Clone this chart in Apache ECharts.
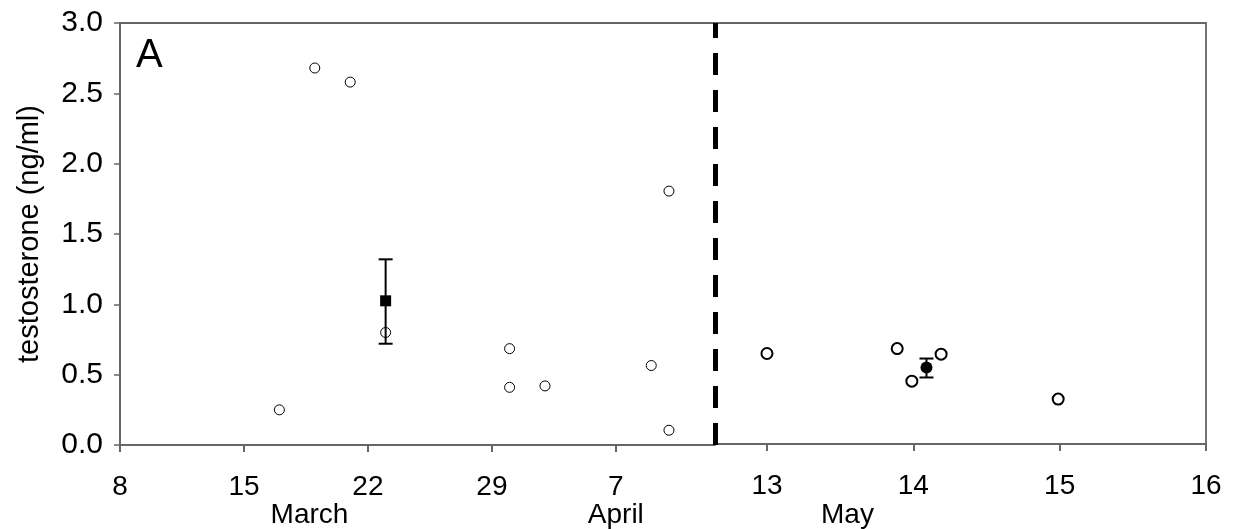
<!DOCTYPE html>
<html>
<head>
<meta charset="utf-8">
<script src="https://cdn.jsdelivr.net/npm/echarts@6/dist/echarts.min.js"></script>
<style>
  html, body { margin: 0; padding: 0; background: #fff; }
  #chart { width: 1235px; height: 529px; }
</style>
</head>
<body>
<div id="chart"></div>
<script>
// ---------- data ----------
// March/April panel: x in day numbers counted from 1 March (tick "7" is the week after 29)
const marAprTickValues = [8, 15, 22, 29, 36];
const marAprTickLabels = ['8', '15', '22', '29', '7'];
const marAprMonthPos = [18.7, 36];
const marAprMonthNames = ['March', 'April'];
const marAprDays   = [17, 19, 21, 23, 30, 30, 32, 38, 39, 39];
const marAprValues = [0.25, 2.68, 2.58, 0.80, 0.685, 0.41, 0.42, 0.565, 1.805, 0.105];
// mean with error bar: [day, mean, low, high]
const marAprMean = [[23, 1.025, 0.72, 1.32]];
const breakDay = 41.6;          // dashed separator (end of Mar/Apr axis)

// May panel: x in days of May
const mayAxisMin = 12.645;
const mayTickValues = [13, 14, 15, 16];
const mayTickLabels = ['13', '14', '15', '16'];
const mayMonthPos = [13.55];
const mayMonthNames = ['May'];
const mayDays   = [13.0, 13.89, 13.99, 14.19, 14.99];
const mayValues = [0.645, 0.68, 0.448, 0.64, 0.32];
const mayMean = [[14.09, 0.545, 0.474, 0.609]];

// ---------- chart ----------
const FONT = 'Liberation Sans, Arial, sans-serif';
const AXIS_COLOR = '#666';
const chart = echarts.init(document.getElementById('chart'), null, { renderer: 'canvas' });

function errorBar(params, api) {
  const x = api.value(0), lo = api.value(2), hi = api.value(3);
  const pLo = api.coord([x, lo]);
  const pHi = api.coord([x, hi]);
  const half = 7;
  const st = { stroke: '#000', lineWidth: 2 };
  return {
    type: 'group',
    children: [
      { type: 'line', shape: { x1: pLo[0], y1: pLo[1], x2: pHi[0], y2: pHi[1] }, style: st },
      { type: 'line', shape: { x1: pHi[0] - half, y1: pHi[1], x2: pHi[0] + half, y2: pHi[1] }, style: st },
      { type: 'line', shape: { x1: pLo[0] - half, y1: pLo[1], x2: pLo[0] + half, y2: pLo[1] }, style: st }
    ]
  };
}

const xLabelStyle = { color: '#000', fontFamily: FONT, fontSize: 28 };
const yLabelStyle = { color: '#000', fontFamily: FONT, fontSize: 30 };

function mainX(gridIndex, min, max, values, labels) {
  return {
    type: 'value', gridIndex, min, max, position: 'bottom',
    axisLine: { show: true, lineStyle: { color: AXIS_COLOR, width: 2 } },
    axisTick: { show: true, inside: false, length: 7, customValues: values, lineStyle: { color: AXIS_COLOR, width: 2 } },
    axisLabel: Object.assign({ show: true, margin: 28, customValues: values,
      formatter: v => labels[values.indexOf(v)] ?? '' }, xLabelStyle),
    splitLine: { show: false }
  };
}
function topX(gridIndex, min, max) {
  return {
    type: 'value', gridIndex, min, max, position: 'top',
    axisLine: { show: true, lineStyle: { color: AXIS_COLOR, width: 2 } },
    axisTick: { show: false }, axisLabel: { show: false }, splitLine: { show: false }
  };
}
function monthX(gridIndex, min, max, pos, names, margin) {
  return {
    type: 'value', gridIndex, min, max, position: 'bottom',
    axisLine: { show: false }, axisTick: { show: false }, splitLine: { show: false },
    axisLabel: Object.assign({ show: true, margin: margin, customValues: pos,
      formatter: v => names[pos.indexOf(v)] ?? '' }, xLabelStyle)
  };
}

const option = {
  animation: false,
  backgroundColor: '#fff',
  grid: [
    { left: 120, top: 23, width: 595, height: 422, containLabel: false },
    { left: 715, top: 23, width: 491, height: 422, containLabel: false }
  ],
  xAxis: [
    mainX(0, 8, breakDay, marAprTickValues, marAprTickLabels),
    topX(0, 8, breakDay),
    monthX(0, 8, breakDay, marAprMonthPos, marAprMonthNames, 56),
    mainX(1, mayAxisMin, 16, mayTickValues, mayTickLabels),
    topX(1, mayAxisMin, 16),
    monthX(1, mayAxisMin, 16, mayMonthPos, mayMonthNames, 57)
  ],
  yAxis: [
    {
      type: 'value', gridIndex: 0, min: 0, max: 3, interval: 0.5, position: 'left',
      name: 'testosterone (ng/ml)', nameLocation: 'middle', nameGap: 76, nameRotate: 90,
      nameTextStyle: { color: '#000', fontFamily: FONT, fontSize: 29 },
      axisLine: { show: true, lineStyle: { color: AXIS_COLOR, width: 2 } },
      axisTick: { show: true, inside: false, length: 6, lineStyle: { color: AXIS_COLOR, width: 1.5 } },
      axisLabel: Object.assign({ margin: 17, formatter: v => v.toFixed(1) }, yLabelStyle),
      splitLine: { show: false }
    },
    {
      type: 'value', gridIndex: 1, min: 0, max: 3, interval: 0.5, position: 'right',
      axisLine: { show: true, lineStyle: { color: '#444', width: 1.5 } },
      axisTick: { show: false }, axisLabel: { show: false }, splitLine: { show: false }
    }
  ],
  graphic: [
    { type: 'text', x: 136, y: 56,
      style: { text: 'A', font: '40px ' + FONT, fill: '#000', textAlign: 'left', textVerticalAlign: 'middle' } }
  ],
  series: [
    {
      type: 'scatter', xAxisIndex: 0, yAxisIndex: 0, clip: false, z: 2,
      data: marAprDays.map((d, i) => [d, marAprValues[i]]),
      symbol: 'circle', symbolSize: 10,
      itemStyle: { color: '#fff', borderColor: '#000', borderWidth: 1, opacity: 1 },
      markLine: {
        silent: true, symbol: ['none', 'none'], label: { show: false },
        lineStyle: { color: '#000', width: 5, type: [22, 15] },
        data: [{ xAxis: breakDay }]
      }
    },
    {
      type: 'custom', xAxisIndex: 0, yAxisIndex: 0, z: 3,
      renderItem: errorBar, encode: { x: 0, y: 1 },
      data: marAprMean
    },
    {
      type: 'scatter', xAxisIndex: 0, yAxisIndex: 0, z: 4,
      data: marAprMean.map(r => [r[0], r[1]]),
      symbol: 'rect', symbolSize: 11,
      itemStyle: { color: '#000', opacity: 1 }
    },
    {
      type: 'scatter', xAxisIndex: 3, yAxisIndex: 1, z: 2,
      data: mayDays.map((d, i) => [d, mayValues[i]]),
      symbol: 'circle', symbolSize: 11,
      itemStyle: { color: '#fff', borderColor: '#000', borderWidth: 2, opacity: 1 }
    },
    {
      type: 'custom', xAxisIndex: 3, yAxisIndex: 1, z: 3,
      renderItem: errorBar, encode: { x: 0, y: 1 },
      data: mayMean
    },
    {
      type: 'scatter', xAxisIndex: 3, yAxisIndex: 1, z: 4,
      data: mayMean.map(r => [r[0], r[1]]),
      symbol: 'circle', symbolSize: 12,
      itemStyle: { color: '#000', opacity: 1 }
    }
  ]
};
chart.setOption(option);
</script>
</body>
</html>
